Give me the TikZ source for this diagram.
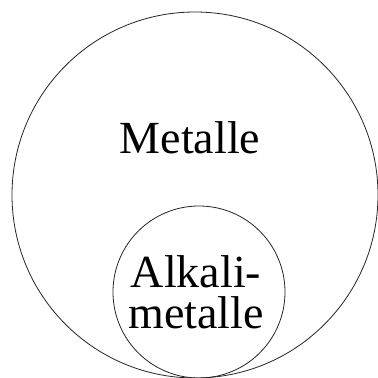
\documentclass[tikz,border=0pt]{standalone}
\usepackage{fontspec}
\setmainfont{Liberation Serif}
\begin{document}
\begin{tikzpicture}[x=1pt,y=-1pt,
  ring/.style={draw=black!85,line width=0.8pt},
  lbl/.style={font=\fontsize{46}{41}\selectfont,inner sep=0pt,anchor=base,align=center}]
\useasboundingbox (0,0) rectangle (378,378);
\fill[white] (0,0) rectangle (378,378);
\node[ring,circle,minimum size=366pt,inner sep=0pt] (big) at (195,195) {};
\node[ring,circle,minimum size=172pt,inner sep=0pt] (small) at (199,292) {};
\node[lbl] (met) at (190,153) {Metalle};
\node[lbl] (alk) at (196,328) {Alkali-\\metalle};
\end{tikzpicture}
\end{document}
